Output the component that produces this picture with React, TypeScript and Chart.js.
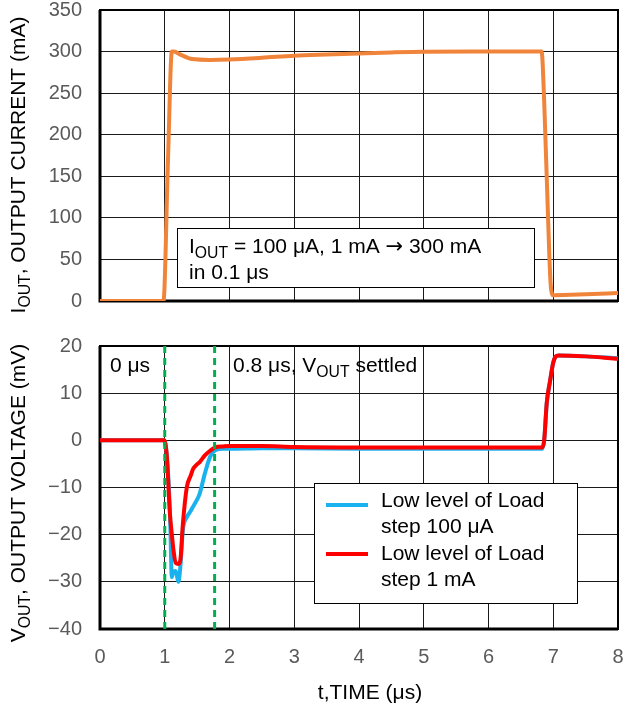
import React, { useEffect, useRef } from "react";
import { Chart, registerables } from "chart.js";

Chart.register(...registerables);

const FONT = '"Liberation Sans", Arial, Helvetica, sans-serif';
const ARROW_FONT = '"DejaVu Sans", sans-serif';
const W = 626;
const H = 709;

// ---- data ----
const currentTime = [0, 0.5, 0.98, 1.05, 1.11, 1.14, 1.25, 1.42, 1.7, 2.0, 2.5, 3.0, 3.5, 4.0, 4.5, 5.0, 6.0, 6.82, 6.86, 6.92, 6.96, 7.0, 7.5, 8.0];
const outputCurrent = [0, 0, 0, 170, 300, 300, 296, 291, 290, 290.5, 292.5, 295, 296.5, 297.8, 299, 299.8, 300, 300, 240, 100, 20, 7, 8, 9.5];

const voltTime = [0, 0.5, 0.99, 1.03, 1.08, 1.11, 1.13, 1.17, 1.21, 1.24, 1.28, 1.34, 1.4, 1.44, 1.49, 1.54, 1.62, 1.7, 1.78, 1.9, 2.0, 2.5, 3.0, 4.0, 5.0, 6.0, 6.83, 6.86, 6.9, 6.95, 7.0, 7.04, 7.08, 7.5, 8.0];
const voutLoad100uA = [0, 0, 0, -3, -15, -29, -28, -27.7, -30, -27, -19, -16.3, -15, -14, -12.8, -11.3, -7, -3.5, -2.1, -1.8, -1.8, -1.7, -1.7, -1.8, -1.8, -1.8, -1.8, 0, 8, 12.5, 16.5, 17.8, 18, 17.8, 17.4];
const voutLoad1mA = [0, 0, 0, -3, -15.6, -20, -22.7, -26, -26.2, -25.5, -17.7, -10, -7.5, -6, -5.2, -4.6, -3.2, -2.2, -1.5, -1.3, -1.2, -1.2, -1.4, -1.5, -1.5, -1.5, -1.5, 0, 8, 12.5, 16.5, 17.8, 18, 17.8, 17.3];

const settleMarks = [1.0, 1.77];
const currentRange = [0, 350];
const currentStep = 50;
const voltRange = [-40, 20];
const voltStep = 10;
const timeRange = [0, 8];
const timeStep = 1;

const ORANGE = "#F0843A";
const BLUE = "#1AB2EE";
const RED = "#FF0000";
const GREEN = "#00B050";
const TICK_COLOR = "#5A5A5A";
const TEXT_SIZE = 21;

type Seg = { t: string; sub?: boolean; font?: string };

function segFont(s: Seg, size: number) {
  return `${s.sub ? size * 0.75 : size}px ${s.font || FONT}`;
}

function segWidth(ctx: CanvasRenderingContext2D, segs: Seg[], size: number) {
  let w = 0;
  for (const s of segs) {
    ctx.font = segFont(s, size);
    w += ctx.measureText(s.t).width;
  }
  return w;
}

function drawSegs(ctx: CanvasRenderingContext2D, segs: Seg[], x: number, y: number, size: number) {
  let cx = x;
  ctx.textAlign = "left";
  ctx.textBaseline = "alphabetic";
  for (const s of segs) {
    ctx.font = segFont(s, size);
    ctx.fillText(s.t, cx, s.sub ? y + size * 0.22 : y);
    cx += ctx.measureText(s.t).width;
  }
  return cx - x;
}

function drawRotated(ctx: CanvasRenderingContext2D, segs: Seg[], cx: number, cy: number, size: number) {
  ctx.save();
  ctx.translate(cx, cy);
  ctx.rotate(-Math.PI / 2);
  const w = segWidth(ctx, segs, size);
  ctx.fillStyle = "#000";
  drawSegs(ctx, segs, -w / 2, 0, size);
  ctx.restore();
}

const framePlugin = {
  id: "frame",
  beforeDatasetsDraw(chart: any) {
    const { ctx, chartArea: a } = chart;
    ctx.save();
    ctx.strokeStyle = "#000";
    ctx.lineWidth = 2;
    ctx.strokeRect(a.left, a.top, a.right - a.left, a.bottom - a.top);
    ctx.lineWidth = 3;
    ctx.beginPath();
    ctx.moveTo(a.left, a.top);
    ctx.lineTo(a.left, a.bottom);
    ctx.lineTo(a.right, a.bottom);
    ctx.stroke();
    ctx.restore();
  },
};

const topDecor = {
  id: "topDecor",
  afterDraw(chart: any) {
    const { ctx } = chart;
    ctx.save();
    drawRotated(ctx, [{ t: "I" }, { t: "OUT", sub: true }, { t: ", OUTPUT CURRENT (mA)" }], 25, 165, TEXT_SIZE);
    ctx.fillStyle = "#fff";
    ctx.fillRect(177, 228, 357, 59);
    ctx.strokeStyle = "#000";
    ctx.lineWidth = 1;
    ctx.strokeRect(177.5, 228.5, 357, 59);
    ctx.fillStyle = "#000";
    drawSegs(
      ctx,
      [{ t: "I" }, { t: "OUT", sub: true }, { t: " = 100 \u03BCA, 1 mA " }, { t: "\u2192", font: ARROW_FONT }, { t: " 300 mA" }],
      189,
      253,
      TEXT_SIZE
    );
    drawSegs(ctx, [{ t: "in 0.1 \u03BCs" }], 189, 279, TEXT_SIZE);
    ctx.restore();
  },
};

const bottomDecor = {
  id: "bottomDecor",
  afterDraw(chart: any) {
    const { ctx } = chart;
    ctx.save();
    drawRotated(ctx, [{ t: "V" }, { t: "OUT", sub: true }, { t: ", OUTPUT VOLTAGE (mV)" }], 25, 493, TEXT_SIZE);
    ctx.fillStyle = "#000";
    const xt: Seg[] = [{ t: "t,TIME (\u03BCs)" }];
    const w = segWidth(ctx, xt, TEXT_SIZE);
    drawSegs(ctx, xt, 370 - w / 2, 699, TEXT_SIZE);
    drawSegs(ctx, [{ t: "0 \u03BCs" }], 110, 372, TEXT_SIZE);
    drawSegs(ctx, [{ t: "0.8 \u03BCs, V" }, { t: "OUT", sub: true }, { t: " settled" }], 233, 372, TEXT_SIZE);
    // legend
    ctx.fillStyle = "#fff";
    ctx.fillRect(314, 483, 263, 120);
    ctx.strokeStyle = "#000";
    ctx.lineWidth = 1;
    ctx.strokeRect(314.5, 483.5, 263, 120);
    ctx.lineWidth = 4;
    ctx.strokeStyle = BLUE;
    ctx.beginPath();
    ctx.moveTo(326, 505);
    ctx.lineTo(368, 505);
    ctx.stroke();
    ctx.strokeStyle = RED;
    ctx.beginPath();
    ctx.moveTo(326, 554);
    ctx.lineTo(368, 554);
    ctx.stroke();
    ctx.fillStyle = "#000";
    drawSegs(ctx, [{ t: "Low level of Load" }], 381, 507, TEXT_SIZE);
    drawSegs(ctx, [{ t: "step 100 \u03BCA" }], 381, 533, TEXT_SIZE);
    drawSegs(ctx, [{ t: "Low level of Load" }], 381, 560, TEXT_SIZE);
    drawSegs(ctx, [{ t: "step 1 mA" }], 381, 586, TEXT_SIZE);
    ctx.restore();
  },
};

const pts = (xs: number[], ys: number[]) => xs.map((x, i) => ({ x, y: ys[i] }));

const gridOpts = { color: "#1a1a1a", lineWidth: 1, drawTicks: false };

const fixX = (h: number) => (s: any) => {
  s.height = h;
  s.paddingLeft = 0;
  s.paddingRight = 0;
};
const fixY = (s: any) => {
  s.width = 100;
  s.paddingTop = 0;
  s.paddingBottom = 0;
};

export default function App() {
  const topRef = useRef<HTMLCanvasElement>(null);
  const botRef = useRef<HTMLCanvasElement>(null);

  useEffect(() => {
    const top = new Chart(topRef.current!, {
      type: "line",
      data: {
        datasets: [
          {
            data: pts(currentTime, outputCurrent),
            borderColor: ORANGE,
            borderWidth: 4,
            pointRadius: 0,
            cubicInterpolationMode: "monotone",
          },
        ],
      },
      options: {
        responsive: false,
        animation: false,
        events: [],
        layout: { padding: { top: 10, right: 8, left: 0, bottom: 0 } },
        plugins: { legend: { display: false }, tooltip: { enabled: false } },
        scales: {
          x: {
            type: "linear",
            min: timeRange[0],
            max: timeRange[1],
            ticks: { display: false, stepSize: timeStep, padding: 0 },
            grid: gridOpts,
            border: { display: false },
            afterFit: fixX(H - 301),
          },
          y: {
            min: currentRange[0],
            max: currentRange[1],
            ticks: { stepSize: currentStep, color: TICK_COLOR, font: { family: FONT, size: 20 }, padding: 18 },
            grid: gridOpts,
            border: { display: false },
            afterFit: fixY,
          },
        },
      } as any,
      plugins: [framePlugin, topDecor],
    });

    const bot = new Chart(botRef.current!, {
      type: "line",
      data: {
        datasets: [
          ...settleMarks.map((m) => ({
            data: [
              { x: m, y: voltRange[0] },
              { x: m, y: voltRange[1] },
            ],
            borderColor: GREEN,
            borderWidth: 3,
            borderDash: [7, 5],
            pointRadius: 0,
            order: 0,
          })),
          {
            data: pts(voltTime, voutLoad1mA),
            borderColor: RED,
            borderWidth: 4,
            pointRadius: 0,
            cubicInterpolationMode: "monotone",
            order: 1,
          },
          {
            data: pts(voltTime, voutLoad100uA),
            borderColor: BLUE,
            borderWidth: 4,
            pointRadius: 0,
            cubicInterpolationMode: "monotone",
            order: 2,
          },
        ],
      },
      options: {
        responsive: false,
        animation: false,
        events: [],
        layout: { padding: { top: 346, right: 8, left: 0, bottom: 0 } },
        plugins: { legend: { display: false }, tooltip: { enabled: false } },
        scales: {
          x: {
            type: "linear",
            min: timeRange[0],
            max: timeRange[1],
            ticks: { stepSize: timeStep, color: TICK_COLOR, font: { family: FONT, size: 20 }, padding: 16, maxRotation: 0 },
            grid: gridOpts,
            border: { display: false },
            afterFit: fixX(H - 629),
          },
          y: {
            min: voltRange[0],
            max: voltRange[1],
            ticks: {
              stepSize: voltStep,
              color: TICK_COLOR,
              font: { family: FONT, size: 20 },
              padding: 18,
              callback: (v: number) => (v < 0 ? "\u2212" + Math.abs(v) : String(v)),
            },
            grid: gridOpts,
            border: { display: false },
            afterFit: fixY,
          },
        },
      } as any,
      plugins: [framePlugin, bottomDecor],
    });

    return () => {
      top.destroy();
      bot.destroy();
    };
  }, []);

  const cv: React.CSSProperties = { position: "absolute", left: 0, top: 0, width: W, height: H };
  return (
    <div style={{ position: "absolute", left: 0, top: 0, width: W, height: H, background: "#fff" }}>
      <canvas ref={botRef} width={W} height={H} style={cv} />
      <canvas ref={topRef} width={W} height={H} style={cv} />
    </div>
  );
}
